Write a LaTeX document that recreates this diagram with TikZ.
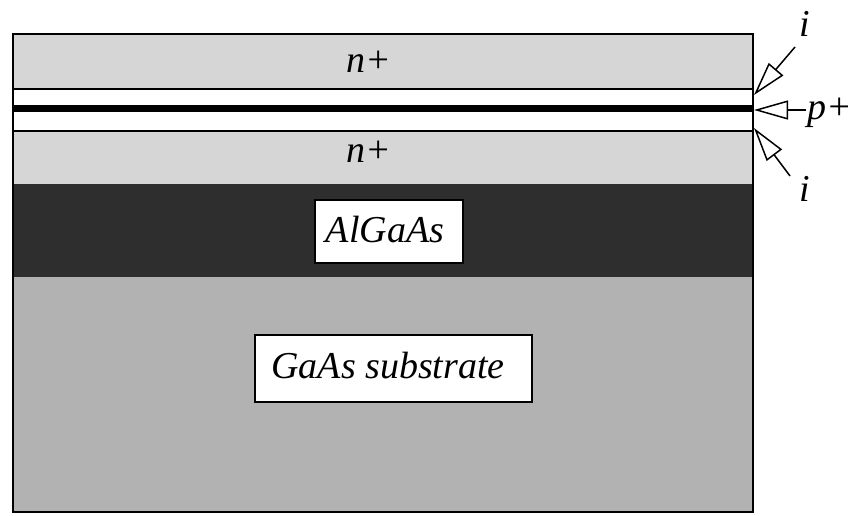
\documentclass[tikz,border=0pt]{standalone}
\usepackage{fontspec}
\setmainfont{Liberation Serif}
\usetikzlibrary{arrows.meta}
\tikzset{
  openhead/.style={-{Triangle[open,length=34pt,width=19pt]}},
  nplus/.style={fill=black!16},
  intrinsic/.style={fill=white},
  pplus/.style={fill=black},
  algaas/.style={fill=black!82},
  substrate/.style={fill=black!30},
  labelbox/.style={draw,fill=white,line width=1.5pt,inner sep=0pt},
  lbl/.style={font=\fontsize{38}{42}\selectfont\itshape,inner sep=0pt}
}

\begin{document}
\begin{tikzpicture}[x=1pt,y=-1pt,line width=1.5pt]
\useasboundingbox (0,0) rectangle (855,515);
% layers, top to bottom
\fill[nplus] (13,34) rectangle (753,89);
\fill[intrinsic] (13,89) rectangle (753,105);
\fill[pplus] (13,105) rectangle (753,112);
\fill[intrinsic] (13,112) rectangle (753,131);
\fill[nplus] (13,131) rectangle (753,184);
\fill[algaas] (13,184) rectangle (753,277);
\fill[substrate] (13,277) rectangle (753,512);
\draw (13,89) -- (753,89);
\draw (13,131) -- (753,131);
\draw (13,34) rectangle (753,512);

\node[lbl,anchor=base] (ntop) at (369,72) {n+};
\node[lbl,anchor=base] (nbot) at (369,162) {n+};
\node[labelbox,minimum width=148pt,minimum height=63pt] (algaasbox) at (389,231.5) {};
\node[lbl,anchor=base] (algaaslbl) at (385,242) {AlGaAs};
\node[labelbox,minimum width=277pt,minimum height=67pt] (gaasbox) at (393.5,368.5) {};
\node[lbl,anchor=base] (gaaslbl) at (388,378) {GaAs substrate};

\node[lbl,anchor=base] (iup) at (805,36) {i};
\node[lbl,anchor=base west] (plbl) at (807,119) {p+};
\node[lbl,anchor=base] (idown) at (805,201) {i};
\coordinate (iupend) at (795,47);
\coordinate (pend) at (806,110);
\coordinate (idownend) at (790,176);
\coordinate (tipup) at (754,95);
\coordinate (tipp) at (754,110);
\coordinate (tipdown) at (754,128);
\draw[openhead] (iupend) -- (tipup);
\draw[openhead] (pend) -- (tipp);
\draw[openhead] (idownend) -- (tipdown);
\end{tikzpicture}
\end{document}
